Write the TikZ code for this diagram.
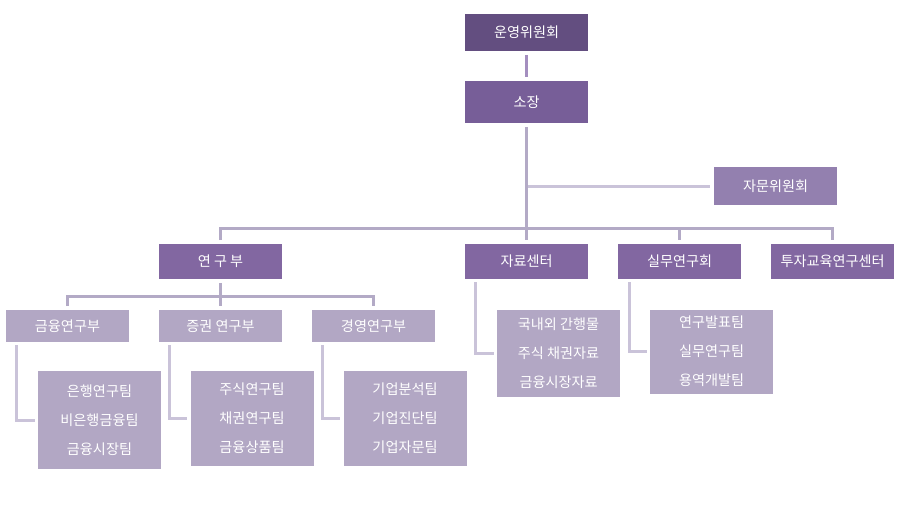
\documentclass[tikz,border=0pt]{standalone}
\usepackage{fontspec}
\setmainfont{Noto Sans CJK KR}
\definecolor{boardfill}{HTML}{634E80}
\definecolor{headfill}{HTML}{775E98}
\definecolor{advfill}{HTML}{9380AF}
\definecolor{deptfill}{HTML}{8267A1}
\definecolor{subfill}{HTML}{B2A7C4}
\definecolor{linkdark}{HTML}{A48EBF}
\definecolor{linkmid}{HTML}{B3AAC6}
\definecolor{linklight}{HTML}{CAC3D9}
\tikzset{every picture/.style={line width=0.75pt}}
\tikzset{
  orgbox/.style={inner sep=0pt, text=white, font=\fontsize{10.6}{12}\selectfont, minimum width=92.25pt},
  teambox/.style={orgbox, fill=subfill, align=center, font=\fontsize{10.6}{21.75}\selectfont},
  link/.style={line width=2.25pt, shorten <=2.5pt, shorten >=2.5pt},
  elbow/.style={draw=linklight, line width=2.25pt, shorten <=2pt, shorten >=2pt}
}

\begin{document}
\begin{tikzpicture}[x=0.75pt,y=0.75pt,yscale=-1,xscale=1]
\useasboundingbox (0,0) rectangle (899,508);

%Shape: Rectangle [top]
\node [orgbox, fill=boardfill, minimum height=27.75pt] (board) at (526.5,32.5) {운영위원회};
\node [orgbox, fill=headfill, minimum height=31.5pt] (head) at (526.5,102) {소장};
\node [orgbox, fill=advfill, minimum height=28.5pt] (advisory) at (775.5,186) {자문위원회};

%Shape: Rectangle [departments]
\node [orgbox, fill=deptfill, minimum height=26.25pt] (research) at (220.5,261.5) {연 구 부};
\node [orgbox, fill=deptfill, minimum height=26.25pt] (data) at (526.5,261.5) {자료센터};
\node [orgbox, fill=deptfill, minimum height=26.25pt] (practice) at (679.5,261.5) {실무연구회};
\node [orgbox, fill=deptfill, minimum height=26.25pt] (invest) at (832.5,261.5) {투자교육연구센터};

%Shape: Rectangle [research divisions]
\node [orgbox, fill=subfill, minimum height=24pt] (fin) at (67.5,326) {금융연구부};
\node [orgbox, fill=subfill, minimum height=24pt] (sec) at (220.5,326) {증권 연구부};
\node [orgbox, fill=subfill, minimum height=24pt] (mgmt) at (373.5,326) {경영연구부};

%Shape: Rectangle [teams]
\node [teambox, minimum height=73.5pt] (finteams) at (99.5,420) {은행연구팀\\비은행금융팀\\금융시장팀};
\node [teambox, minimum height=71.25pt] (secteams) at (252,418.5) {주식연구팀\\채권연구팀\\금융상품팀};
\node [teambox, minimum height=71.25pt] (mgmtteams) at (405,418.5) {기업분석팀\\기업진단팀\\기업자문팀};
\node [teambox, minimum height=65.25pt] (datateams) at (558.5,353) {국내외 간행물\\주식 채권자료\\금융시장자료};
\node [teambox, minimum height=63pt] (practeams) at (711.5,351.5) {연구발표팀\\실무연구팀\\용역개발팀};

\coordinate (bus) at (526.5,228);
\coordinate (subbus) at (220.5,296);

%Straight Lines
\draw [link, draw=linkdark] (board) -- (head);
\draw [link, draw=linklight, shorten <=0pt] (head |- advisory.west) -- (advisory.west);
\draw [link, draw=linkmid] (research.north) |- (bus) -| (invest.north);
\draw [link, draw=linkmid, shorten <=0pt] (bus -| practice.north) -- (practice.north);
\draw [link, draw=linkmid] (head) -- (data);
\draw [link, draw=linkmid, shorten >=0pt] (research) -- (subbus);
\draw [link, draw=linkmid] (fin.north) |- (subbus) -| (mgmt.north);
\draw [link, draw=linkmid, shorten <=0pt] (subbus) -- (sec.north);

%Elbow Lines
\draw [elbow] ([xshift=8.25pt]fin.south west) |- (finteams.west);
\draw [elbow] ([xshift=8.25pt]sec.south west) |- (secteams.west);
\draw [elbow] ([xshift=8.25pt]mgmt.south west) |- (mgmtteams.west);
\draw [elbow] ([xshift=8.25pt]data.south west) |- (datateams.west);
\draw [elbow] ([xshift=9pt]practice.south west) |- (practeams.west);

\end{tikzpicture}
\end{document}
